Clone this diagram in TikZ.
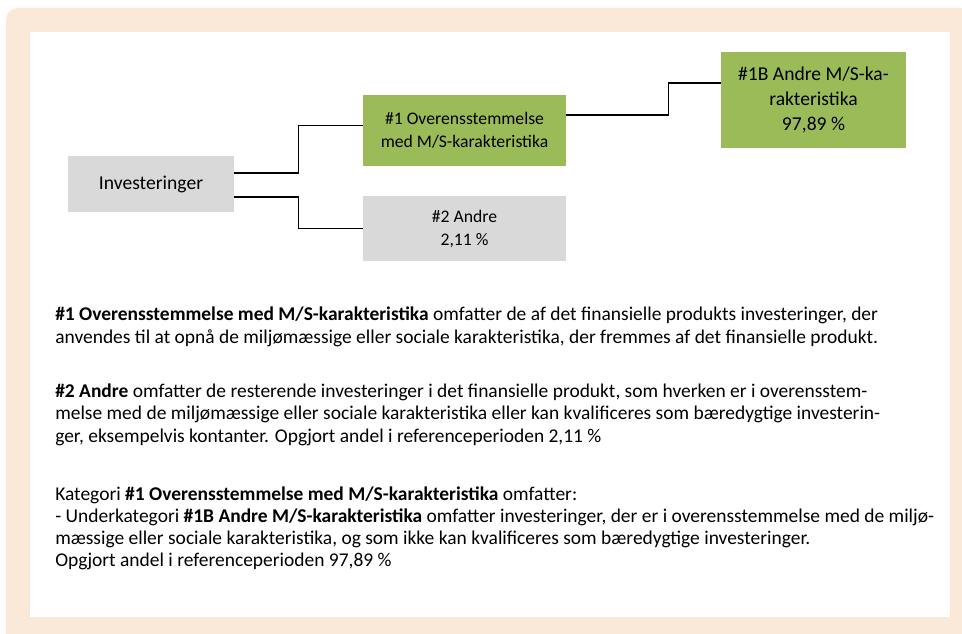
\documentclass[tikz,border=0pt]{standalone}
\usepackage{fontspec}
\setmainfont{Carlito}
\usepackage{xcolor}
\definecolor{kant}{RGB}{250,232,216}
\definecolor{groen}{RGB}{155,187,89}
\definecolor{graa}{RGB}{217,217,217}
\usepackage{tikz}

\begin{document}
\begin{tikzpicture}[x=0.75pt, y=-0.75pt,
                    felt/.style={inner sep=0pt, align=center, font=\fontsize{13.25}{17.25}\selectfont},
                    storfelt/.style={font=\fontsize{14.7}{18.75}\selectfont},
                    groenfelt/.style={felt, fill=groen},
                    graafelt/.style={felt, fill=graa},
                    link/.style={draw=black, line width=0.8pt},
                    tekst/.style={anchor=base west, inner sep=0pt, align=left, font=\fontsize{14.6}{16.7}\selectfont}]
                    \useasboundingbox (0,0) rectangle (962,634);
                    \fill[kant, rounded corners=9pt] (6,8) rectangle (990,660);
                    \fill[white] (30,32) rectangle (950,617);
                    \node[graafelt, storfelt, minimum width=124.5pt, minimum height=42pt] (inv) at (151,184) {Investeringer};
                    \node[groenfelt, minimum width=152.25pt, minimum height=53.25pt] (ovs) at (464.5,130.5) {\#1 Overensstemmelse\\med M/S-karakteristika};
                    \node[graafelt, minimum width=152.25pt, minimum height=48.75pt] (andre) at (464.5,228.5) {\#2 Andre\\2,11 \%};
                    \node[groenfelt, storfelt, minimum width=138.75pt, minimum height=72pt] (andrems) at (813.5,100) {\#1B Andre M/S-ka-\\rakteristika\\97,89 \%};
                    \draw[link] ([yshift=8.25pt]inv.east) -- ++(64,0) |- ([yshift=3.4pt]ovs.west);
                    \draw[link] ([yshift=-9.75pt]inv.east) -- ++(64,0) |- (andre.west);
                    \draw[link] ([yshift=11.6pt]ovs.east) -- ++(102,0) |- ([yshift=12.75pt]andrems.west);
                    \node[tekst] (p1) at (55,343) {\textbf{\#1 Overensstemmelse med M/S-karakteristika} omfatter de af det finansielle produkts investeringer, der\\anvendes til at opnå de miljømæssige eller sociale karakteristika, der fremmes af det finansielle produkt.};
                    \node[tekst] (p2) at (55,442) {\textbf{\#2 Andre} omfatter de resterende investeringer i det finansielle produkt, som hverken er i overensstem-\\melse med de miljømæssige eller sociale karakteristika eller kan kvalificeres som bæredygtige investerin-\\ger, eksempelvis kontanter. Opgjort andel i referenceperioden 2,11 \%};
                    \node[tekst, font=\fontsize{14.6}{16.5}\selectfont] (p3) at (55,566) {Kategori \textbf{\#1 Overensstemmelse med M/S-karakteristika} omfatter:\\- Underkategori \textbf{\#1B Andre M/S-karakteristika} omfatter investeringer, der er i overensstemmelse med de miljø-\\mæssige eller sociale karakteristika, og som ikke kan kvalificeres som bæredygtige investeringer.\\Opgjort andel i referenceperioden 97,89 \%};
                \end{tikzpicture}
\end{document}
